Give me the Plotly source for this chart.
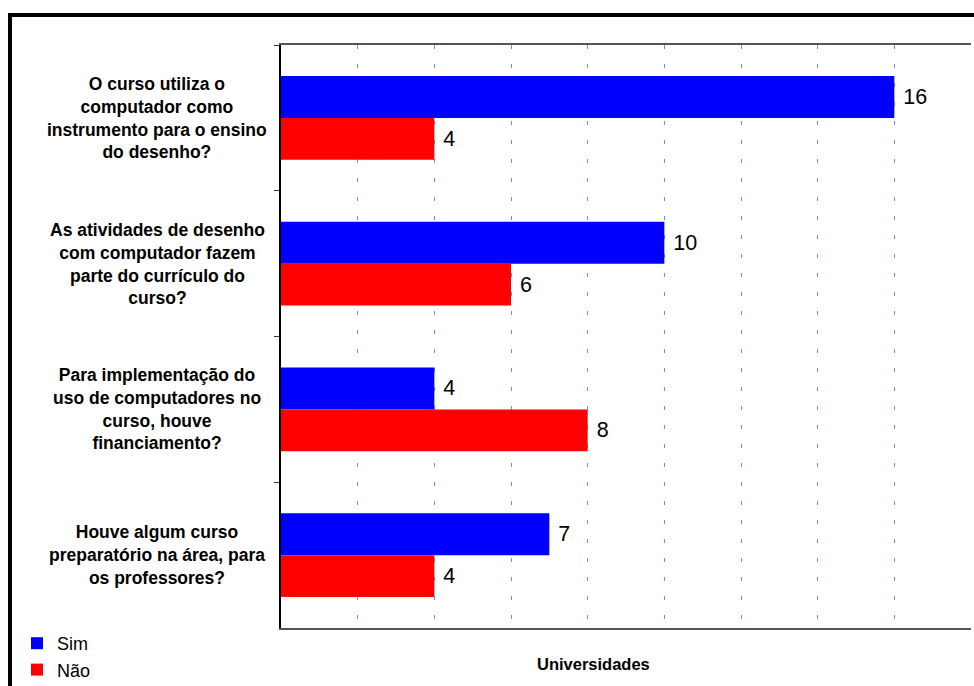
import plotly.graph_objects as go

# Survey questions (one per category) and answer counts
questions = [
    "O curso utiliza o<br>computador como<br>instrumento para o ensino<br>do desenho?",
    "As atividades de desenho<br>com computador fazem<br>parte do currículo do<br>curso?",
    "Para implementação do<br>uso de computadores no<br>curso, houve<br>financiamento?",
    "Houve algum curso<br>preparatório na área, para<br>os professores?",
]
category_ids = ["q1", "q2", "q3", "q4"]
sim_values = [16, 10, 4, 7]
nao_values = [4, 6, 8, 4]
series_names = ["Sim", "Não"]
x_axis_title = "Universidades"

FONT = "Arial, 'Liberation Sans', sans-serif"
W, H = 974, 686
L, R, T, B = 281, 3, 45, 58
PW, PH = W - L - R, H - T - B


def px_to_paper_x(px):
    return (px - L) / PW


def px_to_paper_y(py):
    return (H - B - py) / PH


fig = go.Figure()
for name, vals, color in [(series_names[0], sim_values, "#0000FF"),
                          (series_names[1], nao_values, "#FF0000")]:
    fig.add_trace(go.Bar(
        name=name,
        legendgroup=name,
        y=category_ids,
        x=vals,
        orientation="h",
        marker=dict(color=color, line=dict(width=0)),
        text=vals,
        texttemplate=" %{x}",
        textposition="outside",
        textfont=dict(family=FONT, size=21.5, color="black"),
        cliponaxis=False,
    ))

# Question labels, centred line by line to the left of the axis
annotations = []
for cid, q in zip(category_ids, questions):
    annotations.append(dict(
        x=px_to_paper_x(157), xref="paper", xanchor="center",
        y=cid, yref="y", yanchor="middle",
        text="<b>" + q + "</b>", align="center", showarrow=False,
        font=dict(family=FONT, size=17.5, color="black"),
    ))

annotations.append(dict(
    x=px_to_paper_x(593), xref="paper", xanchor="center",
    y=px_to_paper_y(664), yref="paper", yanchor="middle",
    text="<b>" + x_axis_title + "</b>", showarrow=False,
    font=dict(family=FONT, size=16.5, color="black"),
))

# Thick frame around the whole chart
shapes = [dict(
    type="rect", xref="paper", yref="paper",
    x0=px_to_paper_x(10), x1=px_to_paper_x(W + 20),
    y0=px_to_paper_y(H + 20), y1=px_to_paper_y(15),
    line=dict(color="black", width=4), fillcolor="rgba(0,0,0,0)",
    layer="above",
)]

fig.update_layout(
    width=W, height=H,
    margin=dict(l=L, r=R, t=T, b=B, autoexpand=False),
    paper_bgcolor="white", plot_bgcolor="white",
    barmode="group", bargap=0.424, bargroupgap=0,
    font=dict(family=FONT, color="black"),
    showlegend=True,
    legend=dict(
        x=px_to_paper_x(17), xanchor="left",
        y=px_to_paper_y(625), yanchor="top",
        font=dict(family=FONT, size=18, color="black"),
        bgcolor="rgba(0,0,0,0)", tracegroupgap=0,
        itemwidth=30,
    ),
    xaxis=dict(
        range=[0, 18], dtick=2, tick0=0,
        showticklabels=False, ticks="",
        showgrid=True, gridcolor="#6A8CFF", gridwidth=1,
        griddash="4px,15px",
        showline=True, mirror=True, linecolor="#555555", linewidth=1.5,
        zeroline=False,
    ),
    yaxis=dict(
        type="category", autorange="reversed",
        showticklabels=False,
        ticks="outside", ticklen=5, tickcolor="#333333", tickwidth=1,
        tickson="boundaries",
        showgrid=False, zeroline=False,
        showline=True, linecolor="black", linewidth=1.5,
    ),
    annotations=annotations,
    shapes=shapes,
)

fig.write_html("out.html")
